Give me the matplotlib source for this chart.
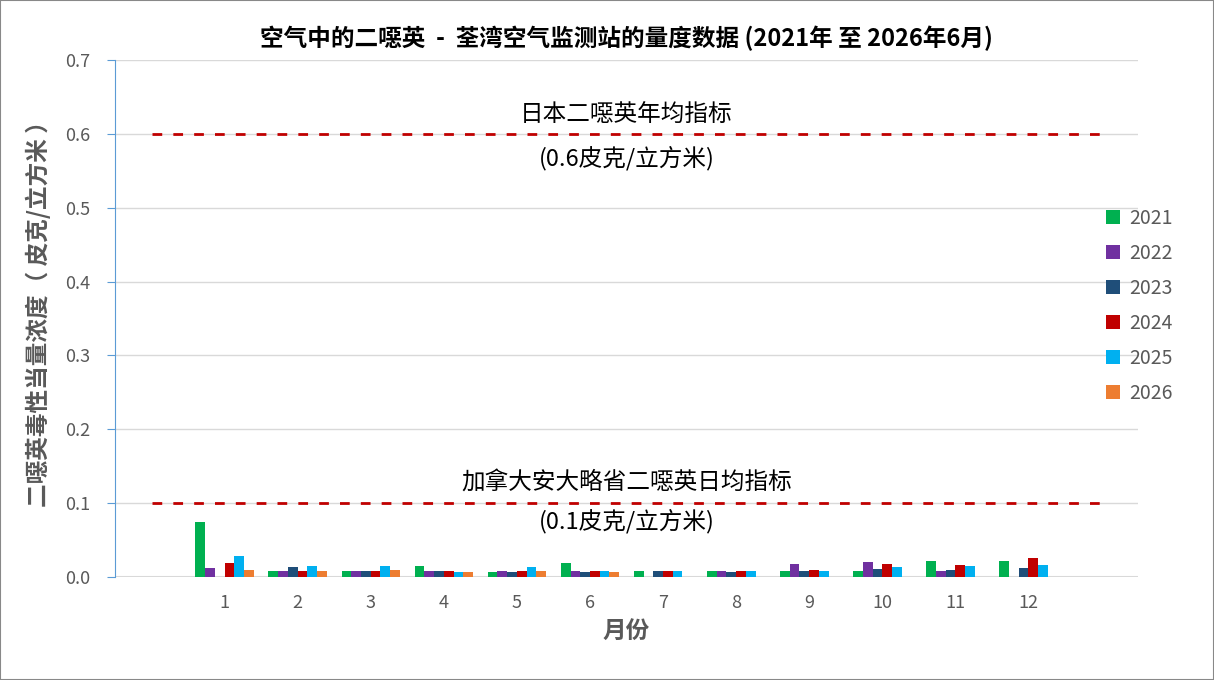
import numpy as np
import matplotlib.pyplot as plt

plt.rcParams['font.family'] = ['Noto Sans CJK SC', 'DejaVu Sans']

months = [str(m) for m in range(1, 13)]
years = ['2021', '2022', '2023', '2024', '2025', '2026']
colors = ['#00B050', '#7030A0', '#1F4E79', '#C00000', '#00B0F0', '#ED7D31']

# 二噁英毒性当量浓度 (皮克/立方米), nan = 无数据
v2021 = [0.074, 0.008, 0.008, 0.015, 0.007, 0.019, 0.008, 0.008, 0.008, 0.008, 0.022, 0.022]
v2022 = [0.012, 0.008, 0.008, 0.008, 0.008, 0.008, np.nan, 0.008, 0.018, 0.020, 0.008, np.nan]
v2023 = [np.nan, 0.0135, 0.008, 0.008, 0.007, 0.007, 0.008, 0.007, 0.008, 0.011, 0.0095, 0.012]
v2024 = [0.019, 0.008, 0.008, 0.008, 0.008, 0.008, 0.008, 0.008, 0.0095, 0.0175, 0.016, 0.026]
v2025 = [0.028, 0.015, 0.015, 0.007, 0.0135, 0.008, 0.008, 0.008, 0.008, 0.0135, 0.015, 0.016]
v2026 = [0.0095, 0.008, 0.0095, 0.007, 0.008, 0.007, np.nan, np.nan, np.nan, np.nan, np.nan, np.nan]
series = [v2021, v2022, v2023, v2024, v2025, v2026]

japan_limit = 0.6
ontario_limit = 0.1

grey = '#595959'
fig = plt.figure(figsize=(12.14, 6.8), dpi=100)
ax = fig.add_axes([0.0947, 0.1515, 0.8427, 0.7603])

x = np.arange(1, 13)
w = 0.133
for i, (yr, vals) in enumerate(zip(years, series)):
    ax.bar(x + (i - 2.5) * w, vals, width=w, color=colors[i], label=yr, zorder=3)

ax.hlines([japan_limit, ontario_limit], 0, 13, colors='#C00000', linewidth=2,
          linestyles=[(0, (3.5, 4))], zorder=4)
ax.text(6.5, japan_limit + 0.025, '日本二噁英年均指标', ha='center', va='center', fontsize=17)
ax.text(6.5, japan_limit - 0.033, '(0.6皮克/立方米)', ha='center', va='center', fontsize=17)
ax.text(6.5, ontario_limit + 0.029, '加拿大安大略省二噁英日均指标', ha='center', va='center', fontsize=17)
ax.text(6.5, ontario_limit - 0.025, '(0.1皮克/立方米)', ha='center', va='center', fontsize=17)

ax.set_xlim(-0.5, 13.5)
ax.set_ylim(0, 0.7)
ax.set_xticks(x)
ax.set_xticklabels(months)
ax.set_yticks(np.arange(0, 0.71, 0.1))
ax.set_yticklabels([f'{t:.1f}' for t in np.arange(0, 0.71, 0.1)])
ax.tick_params(axis='x', length=0, pad=12, labelsize=13, labelcolor=grey)
ax.tick_params(axis='y', length=6, color='#5B9BD5', pad=12, labelsize=13, labelcolor=grey)
ax.grid(axis='y', color='#D9D9D9', linewidth=1, zorder=0)
for s in ['top', 'right', 'bottom']:
    ax.spines[s].set_visible(False)
ax.spines['left'].set_color('#5B9BD5')
ax.axhline(0, color='#D9D9D9', linewidth=1.5, zorder=2)

ax.set_title('空气中的二噁英  -  荃湾空气监测站的量度数据 (2021年 至 2026年6月)',
             fontsize=17, fontweight='bold', pad=10)
ax.set_xlabel('月份', fontsize=17, fontweight='bold', color=grey, labelpad=6)
ax.set_ylabel('二噁英毒性当量浓度（ 皮克/立方米 ）', fontsize=17, fontweight='bold', color=grey)
ax.yaxis.set_label_coords(-0.063, 0.52)

fig.legend(loc='center left', bbox_to_anchor=(0.897, 0.55), frameon=False,
           fontsize=14, handlelength=0.7, handleheight=0.7, labelspacing=0.72,
           handletextpad=0.45, labelcolor=grey)

fig.patches.append(plt.Rectangle((0, 0), 1, 1, transform=fig.transFigure,
                                 fill=False, edgecolor='#888888', linewidth=1.5))

fig.savefig('out.png', dpi=100)
